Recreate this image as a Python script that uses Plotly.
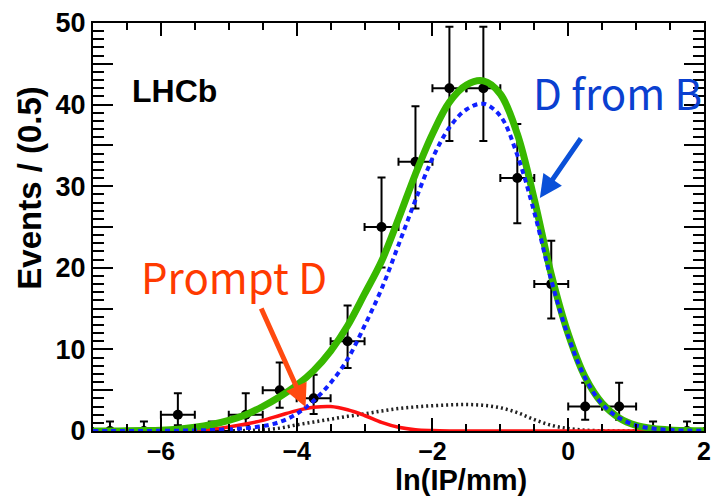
import plotly.graph_objects as go

# ---------------- data ----------------
bin_x = [-6.75, -6.25, -5.75, -5.25, -4.75, -4.25, -3.75, -3.25, -2.75, -2.25,
         -1.75, -1.25, -0.75, -0.25, 0.25, 0.75, 1.25, 1.75]
counts = [0, 0, 2, 0, 2, 5, 4, 11, 25, 33, 42, 42, 31, 18, 3, 3, 0, 0]
err_lo = [0, 0, 1.29, 0, 1.29, 2.16, 1.91, 3.28, 4.97, 5.72, 6.46, 6.46, 5.54, 4.22, 1.63, 1.63, 0, 0]
err_hi = [1.15, 1.15, 2.64, 1.15, 2.64, 3.38, 2.9, 4.38, 6.06, 6.79, 7.53, 7.53, 6.61, 5.30, 2.92, 2.92, 1.15, 1.15]
bin_half = [0.25] * len(bin_x)

curve_x = [-7.0, -6.75, -6.5, -6.25, -6.0, -5.75, -5.5, -5.25, -5.0, -4.75, -4.5, -4.25,
           -4.0, -3.75, -3.5, -3.25, -3.0, -2.75, -2.5, -2.25, -2.0, -1.75, -1.5, -1.25,
           -1.0, -0.75, -0.5, -0.25, 0.0, 0.25, 0.5, 0.75, 1.0, 1.25, 1.5, 1.75, 2.0]
total_fit = [0.0, 0.01, 0.02, 0.05, 0.1, 0.22, 0.45, 0.8, 1.3, 2.0, 3.0, 4.2,
             5.6, 7.4, 9.8, 12.9, 16.8, 20.8, 26.0, 31.5, 36.4, 40.3, 42.4, 42.9,
             41.3, 36.4, 28.4, 19.2, 11.9, 6.6, 3.4, 1.6, 0.7, 0.3, 0.12, 0.05, 0.02]
from_b = [0.0, 0.0, 0.0, 0.01, 0.02, 0.04, 0.07, 0.12, 0.2, 0.35, 0.6, 1.1,
          2.1, 3.7, 5.9, 8.8, 12.9, 17.4, 22.8, 28.3, 33.4, 37.2, 39.4, 40.1,
          38.6, 33.8, 26.8, 18.5, 11.6, 6.5, 3.3, 1.6, 0.7, 0.3, 0.12, 0.05, 0.02]
prompt = [0.0, 0.0, 0.0, 0.0, 0.01, 0.04, 0.1, 0.25, 0.5, 0.85, 1.3, 1.9,
          2.5, 2.9, 3.0, 2.6, 1.9, 1.05, 0.45, 0.15, 0.05, 0.01, 0.0, 0.0,
          0.0, 0.0, 0.0, 0.0, 0.0, 0.0, 0.0, 0.0, 0.0, 0.0, 0.0, 0.0, 0.0]
combinatoric = [0.0, 0.0, 0.0, 0.0, 0.0, 0.0, 0.0, 0.0, 0.02, 0.05, 0.15, 0.35,
                0.75, 1.1, 1.45, 1.8, 2.1, 2.45, 2.75, 2.95, 3.1, 3.2, 3.25, 3.15,
                2.85, 2.25, 1.4, 0.7, 0.3, 0.1, 0.03, 0.0, 0.0, 0.0, 0.0, 0.0, 0.0]

x_ticks = [-6, -4, -2, 0, 2]
y_tickvals = [0, 5, 10, 15, 20, 25, 30, 35, 40, 45, 50]
y_ticktext = ["0", "", "10", "", "20", "", "30", "", "40", "", "50"]

# ---------------- layout geometry ----------------
W, H = 719, 498
L, R, T, B = 93, 8, 23, 67
PW, PH = W - L - R, H - T - B


def px(xp):
    return (xp - L) / PW


def py(yp):
    return (H - B - yp) / PH


fig = go.Figure()

fig.add_trace(go.Scatter(
    x=bin_x, y=counts, mode="markers",
    marker=dict(color="black", size=10),
    error_y=dict(type="data", symmetric=False, array=err_hi, arrayminus=err_lo,
                 color="black", thickness=2, width=4),
    error_x=dict(type="data", array=bin_half, color="black", thickness=2, width=4),
    showlegend=False,
))

fig.add_trace(go.Scatter(x=curve_x, y=combinatoric, mode="lines",
                         line=dict(color="#222222", width=3.5, dash="2px,3px", shape="spline"),
                         showlegend=False))
fig.add_trace(go.Scatter(x=curve_x, y=prompt, mode="lines",
                         line=dict(color="#ff1010", width=3.5, shape="spline"),
                         showlegend=False))
fig.add_trace(go.Scatter(x=curve_x, y=total_fit, mode="lines",
                         line=dict(color="#38b800", width=7, shape="spline"),
                         showlegend=False))
fig.add_trace(go.Scatter(x=curve_x, y=from_b, mode="lines",
                         line=dict(color="#1020ff", width=4, dash="5px,4px", shape="spline"),
                         showlegend=False))

ytickfont = dict(family="Liberation Sans, Arial, sans-serif", size=27, color="black", weight="bold")
xtickfont = dict(family="Liberation Sans, Arial, sans-serif", size=25, color="black", weight="bold")

fig.update_xaxes(
    range=[-7, 2], tickvals=x_ticks, ticks="inside", ticklen=13, tickwidth=2,
    tickcolor="black", showline=True, linecolor="black", linewidth=2, mirror="ticks",
    showgrid=False, zeroline=False, tickfont=xtickfont, ticklabelstandoff=-3,
    minor=dict(dtick=0.5, tick0=0, ticks="inside", ticklen=7, tickwidth=1.5, tickcolor="black", showgrid=False),
)
fig.update_yaxes(
    range=[0, 50], tickvals=y_tickvals, ticktext=y_ticktext, ticks="inside", ticklen=20,
    tickwidth=2, tickcolor="black", showline=True, linecolor="black", linewidth=2,
    mirror="ticks", showgrid=False, zeroline=False, tickfont=ytickfont,
    minor=dict(dtick=1, tick0=0, ticks="inside", ticklen=11, tickwidth=1.5, tickcolor="black", showgrid=False),
)

bold = dict(family="Liberation Sans, Arial, sans-serif", color="black", weight="bold")
ann = [
    dict(text="ln(IP/mm)", x=px(465), y=py(480), xref="paper", yref="paper",
         showarrow=False, xanchor="center", yanchor="middle", borderpad=0,
         font=dict(size=29, **bold)),
    dict(text="Events / (0.5)", x=px(28), y=py(188), xref="paper", yref="paper",
         showarrow=False, xanchor="center", yanchor="middle", textangle=-90,
         font=dict(size=33, **bold)),
    dict(text="LHCb", x=px(130), y=py(91), xref="paper", yref="paper",
         showarrow=False, xanchor="left", yanchor="middle", font=dict(size=32, **bold)),
    dict(text="D from B", x=px(624), y=py(92), xref="paper", yref="paper",
         showarrow=False, xanchor="center", yanchor="middle",
         font=dict(family="Noto Sans CJK JP, Noto Sans, sans-serif", size=42, color="#0a40d0")),
    dict(text="Prompt D", x=px(236), y=py(275), xref="paper", yref="paper",
         showarrow=False, xanchor="center", yanchor="middle",
         font=dict(family="Noto Sans CJK JP, Noto Sans, sans-serif", size=42, color="#ff3a00")),
    # arrows (tip in paper coords, tail offset in px)
    dict(text="", x=px(545), y=py(198), xref="paper", yref="paper", showarrow=True,
         ax=42, ay=-61, arrowhead=2, arrowsize=0.9, arrowwidth=5, arrowcolor="#0a50d8"),
    dict(text="", x=px(308), y=py(407), xref="paper", yref="paper", showarrow=True,
         ax=-45, ay=-100, arrowhead=2, arrowsize=0.9, arrowwidth=5, arrowcolor="#ff4a10"),
]

fig.update_layout(
    width=W, height=H, margin=dict(l=L, r=R, t=T, b=B),
    paper_bgcolor="white", plot_bgcolor="white", annotations=ann,
    showlegend=False,
)

fig.write_html("out.html")
